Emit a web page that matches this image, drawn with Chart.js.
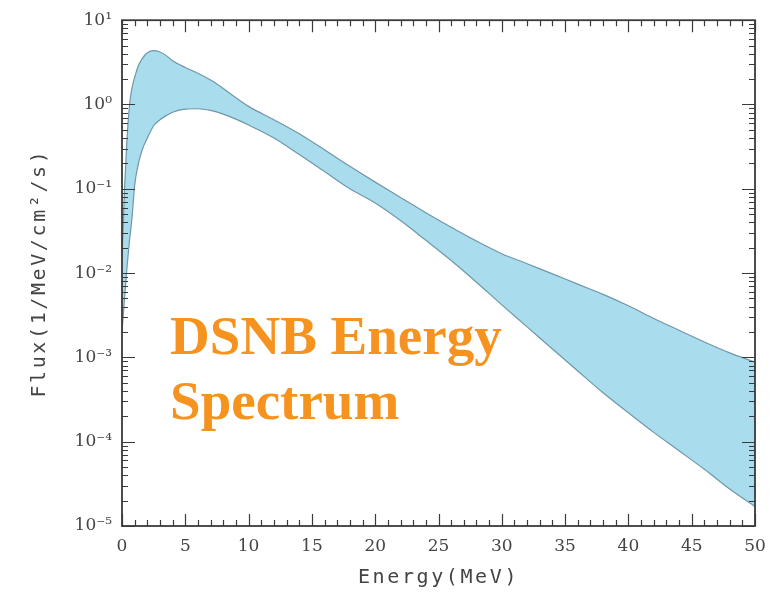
<!DOCTYPE html>
<html>
<head>
<meta charset="utf-8">
<script src="https://cdn.jsdelivr.net/npm/chart.js@4/dist/chart.umd.min.js"></script>
<style>
html,body{margin:0;padding:0;background:#fff;}
#wrap{width:782px;height:592px;}
</style>
</head>
<body>
<div id="wrap"><canvas id="c" width="782" height="592"></canvas></div>
<script>
// ---- data ----
const energy = [0, 0.2, 0.4, 0.6, 0.8, 1.0, 1.3, 1.6, 2.0, 2.5, 3.0, 3.5, 4.0, 5, 6, 7, 8, 9, 10,
  12, 14, 16, 18, 20, 22, 24, 26, 28, 30, 32, 34, 36, 38, 40, 42, 44, 46, 48, 50];
const fluxUpper = [0.015, 0.1, 0.4, 1.0, 1.6, 2.1, 2.9, 3.5, 4.1, 4.35, 4.2, 3.8, 3.3, 2.75, 2.35, 1.95, 1.55, 1.2, 0.95,
  0.66, 0.45, 0.29, 0.185, 0.12, 0.079, 0.052, 0.035, 0.024, 0.017, 0.0129, 0.0098, 0.0074, 0.0056, 0.0041,
  0.0029, 0.0021, 0.00152, 0.00113, 0.00088];
const fluxLower = [0.002, 0.005, 0.012, 0.025, 0.047, 0.11, 0.2, 0.29, 0.4, 0.56, 0.66, 0.74, 0.81, 0.88, 0.89, 0.85, 0.77, 0.67, 0.57,
  0.40, 0.255, 0.16, 0.1, 0.068, 0.042, 0.0245, 0.0141, 0.0078, 0.0042, 0.0023, 0.00126, 0.00069, 0.00038, 0.00022,
  0.000129, 0.000078, 0.000047, 0.0000275, 0.000017];
const xTickValues = [0, 5, 10, 15, 20, 25, 30, 35, 40, 45, 50];
const xTickLabels = ['0', '5', '10', '15', '20', '25', '30', '35', '40', '45', '50'];
const yTickValues = [1e1, 1e0, 1e-1, 1e-2, 1e-3, 1e-4, 1e-5];
const yTickLabels = ['10\u00B9', '10\u2070', '10\u207B\u00B9', '10\u207B\u00B2', '10\u207B\u00B3', '10\u207B\u2074', '10\u207B\u2075'];
const xTitle = 'Energy(MeV)';
const yTitle = 'Flux(1/MeV/cm\u00B2/s)';
const noteLines = ['DSNB Energy', 'Spectrum'];
const seriesNames = ['lower bound', 'upper bound'];

// ---- plugins ----
const titleSpacing = {
  id: 'titleSpacing',
  beforeDraw(chart) { chart.ctx.letterSpacing = '2.6px'; },
  beforeDatasetsDraw(chart) { chart.ctx.letterSpacing = '0px'; }
};

const frameTicks = {
  id: 'frameTicks',
  afterDraw(chart) {
    const ctx = chart.ctx;
    const {left, right, top, bottom} = chart.chartArea;
    const x = chart.scales.x, y = chart.scales.y;
    ctx.save();
    ctx.strokeStyle = '#3a3a3a';
    ctx.lineWidth = 1.2;
    ctx.beginPath();
    for (let v = x.min; v <= x.max; v += 1) {
      const px = Math.round(x.getPixelForValue(v)) + 0.5;
      const len = (v % 5 === 0) ? 12 : 6;
      ctx.moveTo(px, bottom); ctx.lineTo(px, bottom - len);
      ctx.moveTo(px, top); ctx.lineTo(px, top + len);
    }
    for (let d = -5; d <= 1; d++) {
      for (let m = 1; m <= 9; m++) {
        const v = m * Math.pow(10, d);
        if (v > y.max * 1.0001) break;
        const py = Math.round(y.getPixelForValue(v)) + 0.5;
        const len = (m === 1) ? 13 : 6;
        ctx.moveTo(left, py); ctx.lineTo(left + len, py);
        ctx.moveTo(right, py); ctx.lineTo(right - len, py);
      }
    }
    ctx.stroke();
    ctx.lineWidth = 1.8;
    ctx.strokeRect(left, top, right - left, bottom - top);
    // annotation text
    ctx.fillStyle = '#F6931F';
    ctx.font = 'bold 55px "Liberation Serif", "Times New Roman", serif';
    ctx.textAlign = 'left';
    ctx.textBaseline = 'alphabetic';
    ctx.letterSpacing = '0px';
    const tx = x.getPixelForValue(3.8);
    ctx.fillText(noteLines[0], tx, y.getPixelForValue(1.1e-3));
    ctx.fillText(noteLines[1], tx, y.getPixelForValue(1.85e-4));
    ctx.restore();
  }
};

const toPts = (ys) => energy.map((e, i) => ({x: e, y: ys[i]}));

new Chart(document.getElementById('c'), {
  type: 'line',
  data: {
    datasets: [
      {
        label: seriesNames[0],
        data: toPts(fluxLower),
        borderColor: '#6e98a8',
        borderWidth: 1.2,
        pointRadius: 0,
        fill: false,
        cubicInterpolationMode: 'monotone'
      },
      {
        label: seriesNames[1],
        data: toPts(fluxUpper),
        borderColor: '#6e98a8',
        borderWidth: 1.2,
        pointRadius: 0,
        backgroundColor: '#a9dcec',
        fill: '-1',
        cubicInterpolationMode: 'monotone'
      }
    ]
  },
  options: {
    responsive: false,
    animation: false,
    devicePixelRatio: 1,
    layout: {padding: {left: 0, top: 18, right: 27, bottom: 0}},
    plugins: {legend: {display: false}, tooltip: {enabled: false}},
    scales: {
      x: {
        type: 'linear',
        min: 0, max: 50,
        afterFit(s) { s.height = 66; },
        afterBuildTicks(s) { s.ticks = xTickValues.map(v => ({value: v})); },
        grid: {display: false, drawTicks: false},
        border: {display: false},
        ticks: {
          z: 1,
          padding: 10,
          maxRotation: 0,
          color: '#444',
          font: {family: '"DejaVu Serif", serif', size: 17},
          callback: (v) => { const i = xTickValues.indexOf(v); return i >= 0 ? xTickLabels[i] : ''; }
        },
        title: {
          display: true,
          text: xTitle,
          color: '#444',
          font: {family: '"DejaVu Sans Mono", monospace', size: 20},
          padding: {top: 0, bottom: 2}
        }
      },
      y: {
        type: 'logarithmic',
        min: 1e-5, max: 10,
        afterFit(s) { s.width = 122; },
        afterBuildTicks(s) { s.ticks = yTickValues.map(v => ({value: v})); },
        grid: {display: false, drawTicks: false},
        border: {display: false},
        ticks: {
          z: 1,
          padding: 10,
          color: '#444',
          font: {family: '"DejaVu Serif", serif', size: 17},
          callback: (v) => {
            const i = yTickValues.findIndex(t => Math.abs(Math.log10(t) - Math.log10(v)) < 1e-6);
            return i >= 0 ? yTickLabels[i] : '';
          }
        },
        title: {
          display: true,
          text: yTitle,
          color: '#444',
          font: {family: '"DejaVu Sans Mono", monospace', size: 20},
          padding: {top: 28, bottom: 0}
        }
      }
    }
  },
  plugins: [titleSpacing, frameTicks]
});
</script>
</body>
</html>
